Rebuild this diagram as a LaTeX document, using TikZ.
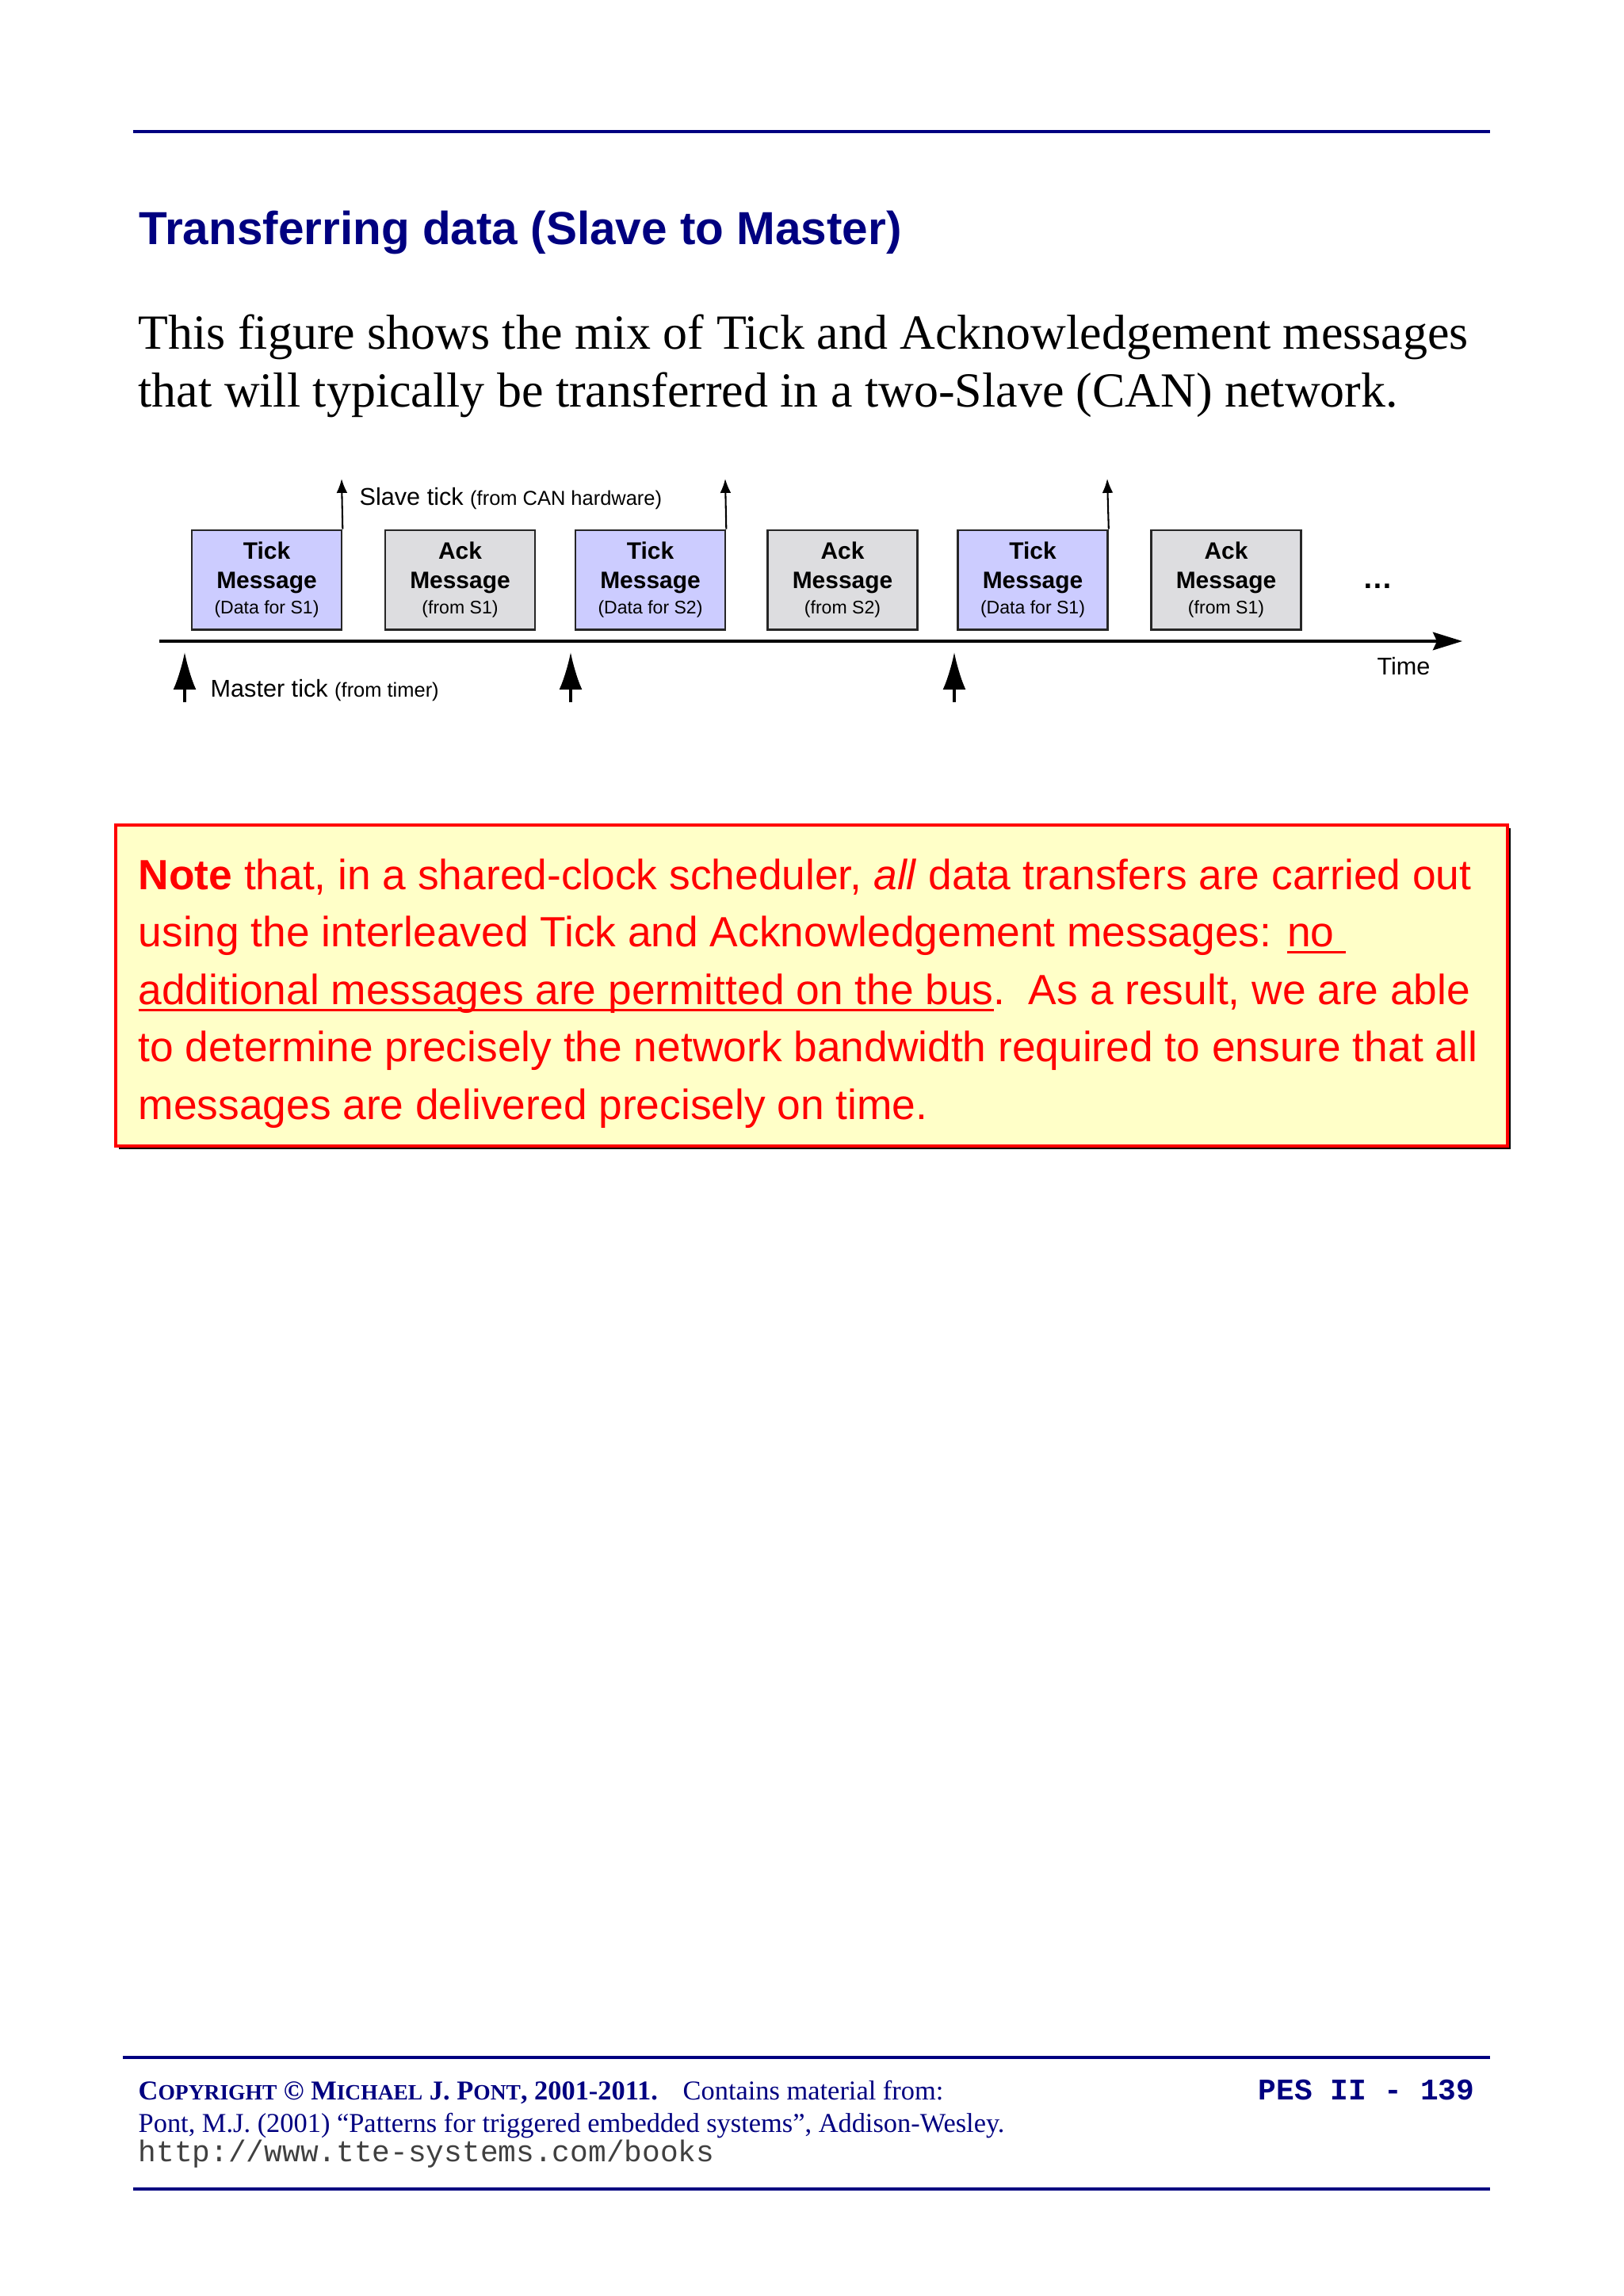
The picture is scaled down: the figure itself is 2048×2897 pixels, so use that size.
\documentclass[tikz,border=0pt]{standalone}
\usepackage{fontspec}
\setmainfont{Liberation Serif}
\setsansfont{Liberation Sans}
\setmonofont{Liberation Mono}
\usetikzlibrary{arrows.meta}
\definecolor{pesnavy}{RGB}{0,0,128}
\definecolor{notered}{RGB}{255,0,0}
\definecolor{notefill}{RGB}{255,255,200}
\definecolor{tickfill}{RGB}{204,204,255}
\definecolor{ackfill}{RGB}{221,221,224}
\newcommand{\msgnote}[1]{\\[-1.7pt]{\mdseries\fontsize{6.7}{8}\selectfont #1}}
\newcommand{\fsc}[1]{{\fontsize{8}{9}\selectfont #1}}
\newcommand{\noteul}[1]{\setbox0\hbox{#1}\rlap{\rule[-2.6pt]{\wd0}{0.9pt}}\box0}
\tikzset{
  msgbox/.style={draw=black!85, line width=0.8pt, minimum width=54.9pt, minimum height=36.4pt,
    inner sep=0pt, align=center, font=\sffamily\bfseries\fontsize{8.7}{10.75}\selectfont,
    execute at begin node=\rule{0pt}{11pt}},
  tickmsg/.style={msgbox, fill=tickfill},
  ackmsg/.style={msgbox, fill=ackfill},
  slavearrow/.style={-{Latex[length=5.2pt,width=4pt]}, line width=0.6pt},
  masterarrow/.style={-{Latex[length=13.7pt,width=8.4pt]}, line width=0.9pt},
  timeline/.style={-{Stealth[length=10.8pt,width=6.6pt,inset=1.5pt]}, line width=0.9pt},
  navyrule/.style={draw=pesnavy, line width=0.9pt},
  txt/.style={anchor=base west, inner sep=0pt},
  lbl/.style={txt, font=\sffamily\fontsize{8.9}{10}\selectfont},
}
\begin{document}
\begin{tikzpicture}[x=0.29066pt,y=-0.29066pt]
    \useasboundingbox (0,0) rectangle (2048,2897);
    \draw[navyrule] (168,166) -- (1880,166);
    \node[txt, text=pesnavy, font=\sffamily\bfseries\fontsize{17}{20}\selectfont] (title) at (175,308) {Transferring data (Slave to Master)};
    \node[txt, align=left, font=\fontsize{18}{21.2}\selectfont] (intro) at (174,513) {This figure shows the mix of Tick and Acknowledgement messages\\that will typically be transferred in a two-Slave (CAN) network.};

    \node[tickmsg] (t1) at (336.5,731.5) {Tick\\Message\msgnote{(Data for S1)}};
    \node[ackmsg] (a1) at (580.5,731.5) {Ack\\Message\msgnote{(from S1)}};
    \node[tickmsg] (t2) at (820.5,731.5) {Tick\\Message\msgnote{(Data for S2)}};
    \node[ackmsg] (a2) at (1063,731.5) {Ack\\Message\msgnote{(from S2)}};
    \node[tickmsg] (t3) at (1303,731.5) {Tick\\Message\msgnote{(Data for S1)}};
    \node[ackmsg] (a3) at (1547,731.5) {Ack\\Message\msgnote{(from S1)}};
    \node[font=\sffamily\bfseries\fontsize{11}{12}\selectfont] (more) at (1738,740) {\ldots};

    \coordinate (tstart) at (201,809);
    \coordinate (tend) at (1845,809);
    \draw[timeline] (tstart) -- (tend);
    \node[lbl, anchor=base] (time) at (1771,851) {Time};

    \coordinate (st1) at (431,604);
    \coordinate (st2) at (915,604);
    \coordinate (st3) at (1397,604);
    \draw[slavearrow] (t1.north east) -- (st1);
    \draw[slavearrow] (t2.north east) -- (st2);
    \draw[slavearrow] (t3.north east) -- (st3);
    \node[lbl] (slavetick) at (453,637) {Slave tick {\fontsize{7.4}{9}\selectfont(from CAN hardware)}};

    \coordinate (mb1) at (233,886);
    \coordinate (mt1) at (233,823);
    \coordinate (mb2) at (720,886);
    \coordinate (mt2) at (720,823);
    \coordinate (mb3) at (1204,886);
    \coordinate (mt3) at (1204,823);
    \draw[masterarrow] (mb1) -- (mt1);
    \draw[masterarrow] (mb2) -- (mt2);
    \draw[masterarrow] (mb3) -- (mt3);
    \node[lbl] (mastertick) at (265,879) {Master tick {\fontsize{7.4}{9}\selectfont(from timer)}};

    \fill[black] (150,1045) rectangle (1906,1450);
    \filldraw[fill=notefill, draw=notered, line width=0.9pt] (146,1041) rectangle (1902,1446);
    \node[txt, align=left, text=notered, font=\sffamily\fontsize{15.5}{21.07}\selectfont] (note) at (174,1412) {{\bfseries Note} that, in a shared-clock scheduler, \textit{all} data transfers are carried out\\
    using the interleaved Tick and Acknowledgement messages: \noteul{no\kern0.28em}\\
    \noteul{additional messages are permitted on the bus}.\ \ As a result, we are able\\
    to determine precisely the network bandwidth required to ensure that all\\
    messages are delivered precisely on time.};

    \draw[navyrule] (155,2596) -- (1880,2596);
    \node[txt, text=pesnavy, font=\bfseries\fontsize{10}{12}\selectfont] (copyright) at (174,2649) {C\fsc{OPYRIGHT} \textcopyright{} M\fsc{ICHAEL} J. P\fsc{ONT}, 2001-2011.};
    \node[txt, text=pesnavy, font=\fontsize{10}{12}\selectfont] (contains) at (861,2649) {Contains material from:};
    \node[txt, anchor=base east, text=pesnavy, font=\ttfamily\bfseries\fontsize{11}{12}\selectfont] (page) at (1861,2649) {PES II - 139};
    \node[txt, text=pesnavy, font=\fontsize{10}{12}\selectfont] (book) at (174,2690) {Pont, M.J. (2001) “Patterns for triggered embedded systems”, Addison-Wesley.};
    \node[txt, text=black!75, font=\ttfamily\fontsize{11}{12}\selectfont] (url) at (174,2727) {http://www.tte-systems.com/books};
    \draw[navyrule] (168,2762) -- (1880,2762);
\end{tikzpicture}
\end{document}
